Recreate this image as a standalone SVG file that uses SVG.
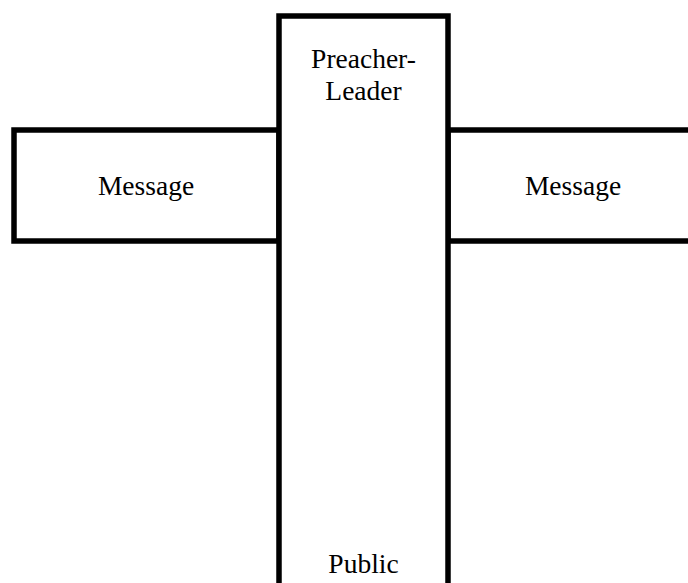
<svg xmlns="http://www.w3.org/2000/svg" width="688" height="583" viewBox="0 0 688 583">
<style>
.box{fill:#fff;stroke:#000;stroke-width:5.5}
.t{font-family:"Liberation Serif","Times New Roman",serif;font-size:27.5px;fill:#000;text-anchor:middle}
</style>
<rect width="688" height="583" fill="#fff"/>
<g id="message-left">
<rect class="box" x="14" y="130" width="265" height="111"/>
<text class="t" x="146" y="195">Message</text>
</g>
<g id="message-right">
<rect class="box" x="448" y="130" width="260" height="111"/>
<text class="t" x="573" y="195">Message</text>
</g>
<g id="preacher-leader">
<rect class="box" x="279" y="16" width="169" height="600"/>
<text class="t" x="363.5" y="68">Preacher-</text>
<text class="t" x="363.5" y="100">Leader</text>
<text class="t" x="363.5" y="573">Public</text>
</g>
<g id="connectors"></g>
</svg>
